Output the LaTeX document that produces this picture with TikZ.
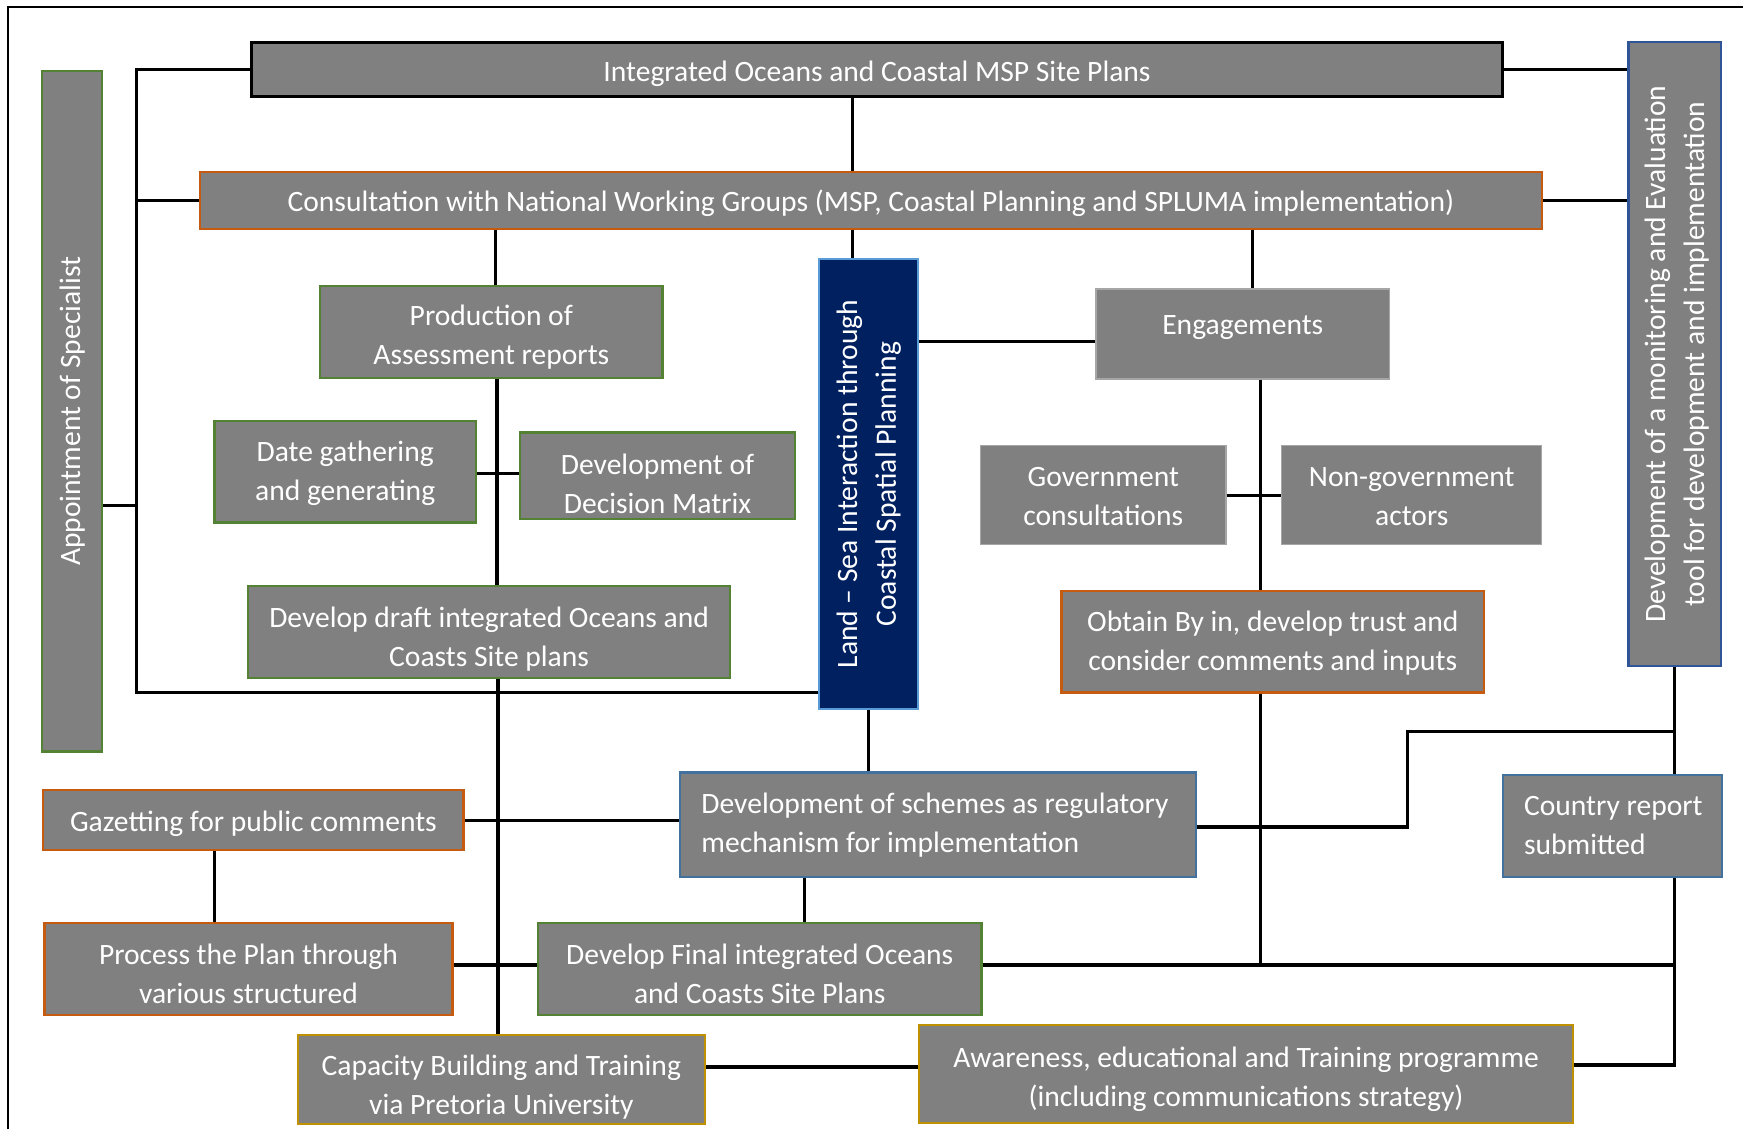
\documentclass[tikz,border=0pt]{standalone}
\usepackage{fontspec}
\setmainfont{Carlito}
\usetikzlibrary{calc}
\definecolor{boxgray}{HTML}{808080}
\definecolor{orng}{HTML}{C55A11}
\definecolor{grn}{HTML}{548235}
\definecolor{blu}{HTML}{41719C}
\definecolor{darkblu}{HTML}{2F5597}
\definecolor{gold}{HTML}{BF9000}
\definecolor{navy}{HTML}{002060}
\definecolor{ltblue}{HTML}{5B9BD5}
\definecolor{ltgray}{HTML}{A6A6A6}
\newcommand{\boxfont}{\fontsize{13.3}{17.5}\selectfont}
\newcommand{\ctext}[2][0pt]{\raisebox{-#1}[\height][\depth]{\begin{tabular}{@{}c@{}}#2\end{tabular}}}
\newcommand{\ltext}[3][0pt]{\raisebox{-#1}[\height][\depth]{\makebox[#2][l]{\begin{tabular}{@{}l@{}}#3\end{tabular}}}}
\begin{document}
\begin{tikzpicture}[x=0.5pt,y=-0.5pt,
  base/.style={fill=boxgray, text=white, inner sep=0pt, line width=1pt, font=\boxfont},
  sz/.style 2 args={minimum width=#1*0.5pt, minimum height=#2*0.5pt},
  blackbox/.style={base, draw=black, line width=1.3pt},
  orangebox/.style={base, draw=orng},
  greenbox/.style={base, draw=grn},
  bluebox/.style={base, draw=blu},
  monbox/.style={base, draw=darkblu},
  goldbox/.style={base, draw=gold},
  plainbox/.style={base, draw=ltgray, line width=0.6pt},
  navybox/.style={base, fill=navy, draw=ltblue},
  txt/.style={text=white, inner sep=0pt, font=\boxfont},
  conn/.style={line width=1.5pt, draw=black}
]
\useasboundingbox (0,0) rectangle (1568,1016);
\fill[white] (0,0) rectangle (1568,1016);
% frame
\draw[line width=0.9pt] (7,1016) -- (7,6) -- (1568,6);

% boxes
\node[blackbox, sz={1126}{49}] (top) at (789,62.5) {\ctext[2pt]{Integrated Oceans and Coastal MSP Site Plans}};
\node[orangebox, sz={1207}{51}] (cons) at (783.5,180.5) {\ctext[1.5pt]{Consultation with National Working Groups (MSP, Coastal Planning and SPLUMA implementation)}};
\node[greenbox, sz={54}{612}] (app) at (65,370) {\rotatebox{90}{\ctext{Appointment of Specialist}}};
\node[monbox, sz={83}{561}] (mon) at (1506.5,318.5) {\rotatebox{90}{\ctext[1pt]{Development of a monitoring and Evaluation\\tool for development and implementation}}};
\node[greenbox, sz={308}{83}] (prod) at (442,298.5) {\ctext[2.5pt]{Production of\\Assessment reports}};
\node[greenbox, sz={235}{91}] (date) at (310.5,424.5) {\ctext[0.75pt]{Date gathering\\and generating}};
\node[greenbox, sz={247}{78}] (dec) at (591.5,428) {};
\node[txt] (dect) at (591.5,437) {\ctext{Development of\\Decision Matrix}};
\node[greenbox, sz={434}{83}] (draft) at (440,568.5) {\ctext[3.25pt]{Develop draft integrated Oceans and\\Coasts Site plans}};
\node[navybox, sz={89}{405}] (lsi) at (781.5,435.5) {\rotatebox{90}{\ctext{Land – Sea Interaction through\\Coastal Spatial Planning}}};
\node[plainbox, sz={264}{81}] (eng) at (1118,300.5) {};
\node[txt] (engt) at (1118,294) {\ctext{Engagements}};
\node[plainbox, sz={221}{89}] (gov) at (992.5,445.5) {\ctext[1.25pt]{Government\\consultations}};
\node[plainbox, sz={234}{89}] (ngov) at (1270,445.5) {\ctext[1.25pt]{Non-government\\actors}};
\node[orangebox, sz={380}{91}] (obt) at (1145,577.5) {\ctext[0.75pt]{Obtain By in, develop trust and\\consider comments and inputs}};
\node[orangebox, sz={378}{54}] (gaz) at (228,738) {\ctext[1.5pt]{Gazetting for public comments}};
\node[bluebox, sz={464}{94}] (sch) at (844,742) {\ltext{213pt}{Development of schemes as regulatory\\mechanism for implementation}};
\node[bluebox, sz={197}{92}] (cty) at (1450.5,743) {\ltext[0.75pt]{79.5pt}{Country report\\submitted}};
\node[orangebox, sz={367}{83}] (proc) at (223.5,871.5) {\ctext[3.25pt]{Process the Plan through\\various structured}};
\node[greenbox, sz={399}{83}] (fin) at (683.5,871.5) {\ctext[3.25pt]{Develop Final integrated Oceans\\and Coasts Site Plans}};
\node[goldbox, sz={366}{80}] (cap) at (451,971) {\ctext[3.5pt]{Capacity Building and Training\\via Pretoria University}};
\node[goldbox, sz={588}{88}] (aw) at (1121,966) {\ctext[2.25pt]{Awareness, educational and Training programme\\(including communications strategy)}};

% helper coordinates
\coordinate (bx) at (123,0);
\coordinate (by) at (0,623);
\coordinate (ay) at (0,455);
\coordinate (cx) at (767,0);
\coordinate (qx) at (446,0);
\coordinate (px) at (447,0);
\coordinate (dx) at (448,0);
\coordinate (ey) at (0,307);
\coordinate (jy) at (0,426);
\coordinate (nx) at (1127,0);
\coordinate (ex) at (1134,0);
\coordinate (gx) at (193,0);
\coordinate (sx) at (724,0);
\coordinate (kx) at (1266,0);
\coordinate (ky) at (0,658);
\coordinate (sy) at (0,744);
\coordinate (fy) at (0,868);
\coordinate (vy) at (0,958);
\coordinate (wy) at (0,960);

% connectors
\draw[conn] (top.west) -| (bx |- by) -- (lsi.west |- by);
\draw[conn] (cons.west) -- (cons.west -| bx);
\draw[conn] (app.east |- ay) -- (bx |- ay);
\draw[conn] (top.east) -- (top.east -| mon.west);
\draw[conn] (cons.east) -- (cons.east -| mon.west);
\draw[conn] (top.south -| cx) -- (cons.north -| cx);
\draw[conn] (cons.south -| cx) -- (lsi.north -| cx);
\draw[conn] (cons.south -| qx) -- (prod.north -| qx);
\draw[conn] (prod.south -| px) -- (draft.north -| px);
\draw[conn] (date.east |- jy) -- (dec.west |- jy);
\draw[conn] (draft.south -| dx) -- (cap.north -| dx);
\draw[conn] (eng.west |- ey) -- (lsi.east |- ey);
\draw[conn] (cons.south -| nx) -- (eng.north -| nx);
\draw[conn] (eng.south -| ex) -- (obt.north -| ex);
\draw[conn] (gov.east) -- (ngov.west);
\draw[conn] (obt.south -| ex) -- (ex |- fy);
\draw[conn] (fin.east |- fy) -- (mon.south |- fy);
\draw[conn] (lsi.south) -- (lsi.south |- sch.north);
\draw[conn] (gaz.east) -- (gaz.east -| sch.west);
\draw[conn] (gaz.south -| gx) -- (proc.north -| gx);
\draw[conn] (sch.south -| sx) -- (fin.north -| sx);
\draw[conn] (proc.east |- fy) -- (fin.west |- fy);
\draw[conn] (sch.east |- sy) -| (kx |- ky) -- (mon.south |- ky);
\draw[conn] (mon.south) -- (mon.south |- cty.north);
\draw[conn] (mon.south |- cty.south) -- (mon.south |- vy) -- (aw.east |- vy);
\draw[conn] (cap.east |- wy) -- (aw.west |- wy);
\end{tikzpicture}
\end{document}
